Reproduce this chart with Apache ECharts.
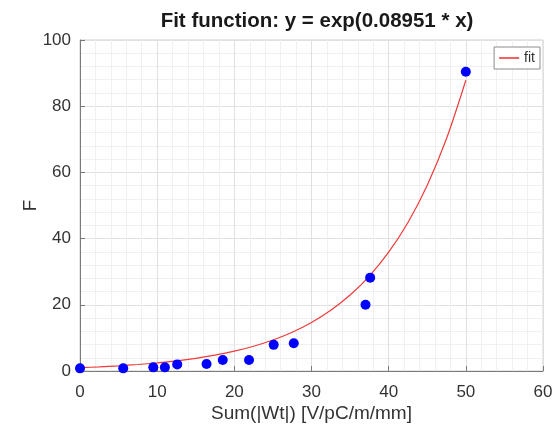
<!DOCTYPE html>
<html>
<head>
<meta charset="utf-8">
<script src="https://cdn.jsdelivr.net/npm/echarts@6/dist/echarts.min.js"></script>
<style>html,body{margin:0;padding:0;background:#fff}#c{width:552px;height:427px}</style>
</head>
<body>
<div id="c"></div>
<script>
// Measured data points (Sum(|Wt|), F)
const pointX = [0, 5.6, 9.5, 11.0, 12.6, 16.4, 18.5, 21.9, 25.1, 27.7, 37.0, 37.6, 50.0];
const pointY = [0.8, 0.8, 1.1, 1.1, 2.0, 2.1, 3.3, 3.3, 7.9, 8.4, 20.0, 28.2, 90.4];
// Fit curve values
const fitX = [0, 2.5, 5, 7.5, 10, 12.5, 15, 17.5, 20, 22.5, 25, 27.5, 30, 32.5, 35, 37.5, 40, 42.5, 45, 47.5, 50];
const fitY = [1.0, 1.25, 1.57, 1.96, 2.45, 3.06, 3.83, 4.79, 5.99, 7.49, 9.37, 11.72, 14.66, 18.34, 22.94, 28.69, 35.89, 44.88, 56.15, 70.23, 87.84];
const xTicks = [0, 10, 20, 30, 40, 50, 60];
const yTicks = [0, 20, 40, 60, 80, 100];
const titleText = 'Fit function: y = exp(0.08951 * x)';
const xName = 'Sum(|Wt|) [V/pC/m/mm]';
const yName = 'F';
const legendName = 'fit';

const chart = echarts.init(document.getElementById('c'), null, {renderer: 'canvas'});
const font = 'Liberation Sans, Arial, Helvetica, sans-serif';
chart.setOption({
  animation: false,
  backgroundColor: '#fff',
  textStyle: {fontFamily: font},
  title: {
    text: titleText,
    left: 312, top: 6, textAlign: 'center',
    textStyle: {fontSize: 20.5, fontWeight: 'bold', color: '#1a1a1a', fontFamily: font}
  },
  legend: {
    data: [{name: legendName, icon: 'path://M0,0 L1,0 L1,0.08 L0,0.08 Z'}],
    right: 12, top: 47,
    itemWidth: 20, itemHeight: 2, itemGap: 4,
    padding: [4, 5, 4, 5],
    borderColor: '#8c8c8c', borderWidth: 1, backgroundColor: '#fff',
    textStyle: {fontSize: 14, color: '#333', fontFamily: font}
  },
  grid: {
    left: 80, right: 9, top: 40, bottom: 56,
    containLabel: false, outerBoundsMode: 'none',
    show: true, borderColor: '#cfcfcf', borderWidth: 1, backgroundColor: '#fff'
  },
  xAxis: {
    type: 'value', min: xTicks[0], max: xTicks[xTicks.length - 1], interval: 10,
    name: xName, nameLocation: 'middle', nameGap: 33, nameMoveOverlap: false,
    nameTextStyle: {fontSize: 19, color: '#333', fontFamily: font},
    axisLine: {show: true, onZero: false, lineStyle: {color: '#7a7a7a', width: 1}},
    axisTick: {show: true, inside: true, length: 5, lineStyle: {color: '#7a7a7a'}},
    axisLabel: {fontSize: 17, color: '#333', margin: 13, fontFamily: font},
    splitLine: {show: true, lineStyle: {color: '#e0e0e0', width: 1}},
    minorTick: {show: false, splitNumber: 5},
    minorSplitLine: {show: true, lineStyle: {color: '#f0f0f0', width: 1}}
  },
  yAxis: {
    type: 'value', min: yTicks[0], max: yTicks[yTicks.length - 1], interval: 20,
    name: yName, nameLocation: 'middle', nameGap: 40, nameMoveOverlap: false,
    nameTextStyle: {fontSize: 19, color: '#333', fontFamily: font},
    axisLine: {show: true, onZero: false, lineStyle: {color: '#7a7a7a', width: 1}},
    axisTick: {show: true, inside: true, length: 5, lineStyle: {color: '#7a7a7a'}},
    axisLabel: {fontSize: 17, color: '#333', margin: 9, fontFamily: font},
    splitLine: {show: true, lineStyle: {color: '#e0e0e0', width: 1}},
    minorTick: {show: false, splitNumber: 5},
    minorSplitLine: {show: true, lineStyle: {color: '#f0f0f0', width: 1}}
  },
  series: [
    {
      name: legendName, type: 'line', smooth: 0.3, showSymbol: false,
      data: fitX.map((x, i) => [x, fitY[i]]),
      lineStyle: {color: '#f03a3a', width: 1.2},
      itemStyle: {color: '#f03a3a'},
      z: 2
    },
    {
      name: 'data', type: 'scatter', symbolSize: 10,
      data: pointX.map((x, i) => [x, pointY[i]]),
      itemStyle: {color: '#0000ff', opacity: 1},
      z: 3
    }
  ]
});
</script>
</body>
</html>
